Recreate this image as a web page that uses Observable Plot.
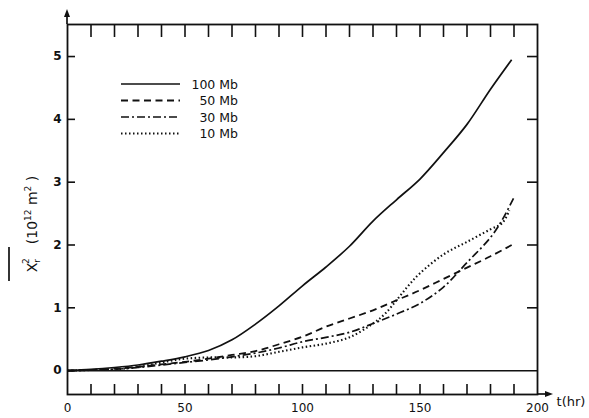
<!DOCTYPE html>
<html><head><meta charset="utf-8">
<script src="https://cdn.jsdelivr.net/npm/d3@7"></script>
<script src="https://cdn.jsdelivr.net/npm/@observablehq/plot@0.6"></script>
<style>body{margin:0;background:#fff}</style>
</head><body><div id="chart"></div>
<script>
// ---- data ----
const seriesNames = ["100 Mb", "50 Mb", "30 Mb", "10 Mb"];
const t100 = [0,10,20,30,40,50,60,70,80,90,100,110,120,130,140,150,160,170,180,189];
const v100 = [0,0.02,0.05,0.09,0.15,0.22,0.32,0.49,0.74,1.03,1.35,1.65,1.98,2.38,2.72,3.05,3.47,3.92,4.48,4.95];
const t50 = [0,10,20,30,40,50,60,70,80,90,100,110,120,130,140,150,160,170,180,190];
const v50 = [0,0.01,0.03,0.06,0.10,0.14,0.19,0.25,0.31,0.42,0.54,0.70,0.83,0.96,1.12,1.28,1.46,1.64,1.82,2.02];
const t30 = [0,10,20,30,40,50,60,70,80,90,100,110,120,130,140,150,160,170,180,185,190];
const v30 = [0,0.01,0.02,0.05,0.09,0.13,0.17,0.22,0.28,0.36,0.46,0.53,0.61,0.75,0.90,1.07,1.33,1.72,2.12,2.40,2.76];
const t10 = [0,10,20,30,40,50,60,70,80,90,100,110,120,130,135,140,145,150,160,170,180,185,188];
const v10 = [0,0.01,0.02,0.06,0.13,0.19,0.21,0.21,0.23,0.30,0.37,0.43,0.53,0.75,0.90,1.12,1.35,1.55,1.85,2.05,2.25,2.35,2.55];
const xTickLabels = [0, 50, 100, 150, 200];
const xMinorTicks = [10,20,30,40,50,60,70,80,90,100,110,120,130,140,150,160,170,180,190];
const yTickLabels = [0, 1, 2, 3, 4, 5];
const yRightTicks = [1, 2, 3, 4, 5];

const seriesT = {"100 Mb": t100, "50 Mb": t50, "30 Mb": t30, "10 Mb": t10};
const seriesV = {"100 Mb": v100, "50 Mb": v50, "30 Mb": v30, "10 Mb": v10};
const rows = seriesNames.flatMap(s => seriesT[s].map((t, i) => ({series: s, t, v: seriesV[s][i]})));

// ---- styles ----
const lineStyle = {
  "100 Mb": {dash: null, cap: "butt", w: 1.7},
  "50 Mb": {dash: "7,4.5", cap: "butt", w: 1.8},
  "30 Mb": {dash: "8,3,2,3", cap: "butt", w: 1.7},
  "10 Mb": {dash: "1.5,2.5", cap: "butt", w: 2.1}
};
const ink = "#111";

const plot = Plot.plot({
  width: 589, height: 418,
  marginLeft: 67, marginRight: 52, marginTop: 24, marginBottom: 24,
  x: {domain: [0, 200]},
  y: {domain: [-0.38, 5.51]},
  style: {fontFamily: "DejaVu Sans", fontSize: "12px", color: ink, background: "#fff"},
  marks: [
    Plot.frame({stroke: ink, strokeWidth: 1.8}),
    Plot.ruleY([0], {stroke: ink, strokeWidth: 1.5}),
    Plot.axisX({anchor: "top", ticks: xMinorTicks, tickSize: -12, tickFormat: () => "", label: null, strokeWidth: 1.6}),
    Plot.axisX({anchor: "bottom", ticks: xMinorTicks, tickSize: -10, tickFormat: () => "", label: null, strokeWidth: 1.6}),
    Plot.axisX({anchor: "bottom", ticks: xTickLabels, tickSize: 0, tickPadding: 9, label: null, fontSize: 12}),
    Plot.axisY({anchor: "left", ticks: yTickLabels, tickFormat: d3.format("d"), tickSize: -8, tickPadding: 14, label: null, strokeWidth: 1.6, fontWeight: "bold", fontSize: 12}),
    Plot.axisY({anchor: "right", ticks: yRightTicks, tickSize: -11, tickFormat: () => "", label: null, strokeWidth: 1.6}),
    ...seriesNames.map(s => Plot.line(rows.filter(d => d.series === s), {
      x: "t", y: "v", curve: "catmull-rom", stroke: ink,
      strokeWidth: lineStyle[s].w, strokeDasharray: lineStyle[s].dash, strokeLinecap: lineStyle[s].cap
    }))
  ]
});
document.getElementById("chart").appendChild(plot);

const xs = plot.scale("x"), ys = plot.scale("y");
const svg = d3.select(plot);
const x0 = xs.apply(0), x1 = xs.apply(200);
const yTop = ys.apply(5.51), yBot = ys.apply(-0.38);
const g = svg.append("g").attr("fill", ink).attr("stroke", ink);

// axis arrows
g.append("line").attr("x1", x1).attr("x2", x1 + 11).attr("y1", yBot).attr("y2", yBot).attr("stroke-width", 1.7);
g.append("path").attr("d", `M${x1+16},${yBot} L${x1+8},${yBot-3} L${x1+8},${yBot+3} Z`).attr("stroke", "none");
g.append("line").attr("x1", x0).attr("x2", x0).attr("y1", yTop).attr("y2", yTop - 10).attr("stroke-width", 1.7);
g.append("path").attr("d", `M${x0},${yTop-15} L${x0-3},${yTop-7} L${x0+3},${yTop-7} Z`).attr("stroke", "none");

// x axis title
svg.append("text").attr("x", x1 + 34).attr("y", yBot + 12).attr("font-family", "DejaVu Sans").attr("font-size", 13)
  .attr("fill", ink).text("t(hr)");

// y axis title (rotated)
const yl = svg.append("text").attr("transform", "translate(37,224) rotate(-90)").attr("text-anchor", "middle")
  .attr("font-family", "DejaVu Sans").attr("font-size", 14).attr("fill", ink);
yl.append("tspan").text("X");
yl.append("tspan").attr("font-size", 9).attr("dy", 3).text("r");
yl.append("tspan").attr("font-size", 9).attr("dx", -5).attr("dy", -11).text("2");
yl.append("tspan").attr("dy", 8).text("\u2003(10");
yl.append("tspan").attr("font-size", 9).attr("dy", -6).text("12");
yl.append("tspan").attr("dy", 6).text(" m");
yl.append("tspan").attr("font-size", 9).attr("dy", -6).text("2");
yl.append("tspan").attr("dy", 6).text(" )");
svg.append("line").attr("x1", 9).attr("x2", 9).attr("y1", 247).attr("y2", 281).attr("stroke", ink).attr("stroke-width", 1.7);

// legend
const lg = svg.append("g");
seriesNames.forEach((s, i) => {
  const y = 84 + i * 16.5;
  lg.append("line").attr("x1", 121).attr("x2", 180).attr("y1", y).attr("y2", y)
    .attr("stroke", ink).attr("stroke-width", lineStyle[s].w)
    .attr("stroke-dasharray", lineStyle[s].dash).attr("stroke-linecap", lineStyle[s].cap);
  lg.append("text").attr("x", 238).attr("y", y + 4.5).attr("text-anchor", "end")
    .attr("font-family", "DejaVu Sans").attr("font-size", 12.5).attr("fill", ink).text(s);
});
</script>
</body></html>
